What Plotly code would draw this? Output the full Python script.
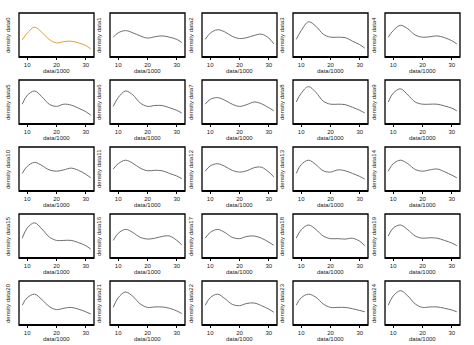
import plotly.graph_objects as go

# grid points (data/1000)
x_vals = [8.3, 10, 12.5, 15, 17.5, 20, 22.5, 25, 27.5, 30, 31.7]

# density estimates
densities = [
    [0.039, 0.054, 0.068, 0.056, 0.040, 0.032, 0.035, 0.036, 0.032, 0.026, 0.018],  # data0
    [0.045, 0.055, 0.060, 0.055, 0.048, 0.043, 0.046, 0.048, 0.045, 0.040, 0.033],  # data1
    [0.040, 0.054, 0.062, 0.057, 0.047, 0.042, 0.044, 0.049, 0.052, 0.043, 0.030],  # data2
    [0.040, 0.060, 0.080, 0.070, 0.052, 0.045, 0.045, 0.044, 0.036, 0.028, 0.020],  # data3
    [0.045, 0.060, 0.072, 0.064, 0.050, 0.045, 0.046, 0.048, 0.044, 0.037, 0.030],  # data4
    [0.045, 0.065, 0.075, 0.062, 0.045, 0.040, 0.045, 0.043, 0.036, 0.028, 0.020],  # data5
    [0.040, 0.060, 0.075, 0.066, 0.048, 0.040, 0.042, 0.042, 0.037, 0.031, 0.025],  # data6
    [0.045, 0.056, 0.060, 0.054, 0.045, 0.040, 0.044, 0.050, 0.046, 0.037, 0.030],  # data7
    [0.050, 0.070, 0.085, 0.072, 0.052, 0.045, 0.045, 0.044, 0.038, 0.031, 0.025],  # data8
    [0.050, 0.070, 0.080, 0.066, 0.050, 0.045, 0.045, 0.045, 0.041, 0.036, 0.030],  # data9
    [0.040, 0.056, 0.065, 0.058, 0.048, 0.045, 0.048, 0.052, 0.047, 0.038, 0.030],  # data10
    [0.050, 0.062, 0.070, 0.063, 0.052, 0.046, 0.047, 0.046, 0.040, 0.034, 0.028],  # data11
    [0.045, 0.057, 0.062, 0.056, 0.047, 0.043, 0.046, 0.053, 0.054, 0.043, 0.032],  # data12
    [0.040, 0.060, 0.070, 0.060, 0.046, 0.043, 0.048, 0.046, 0.040, 0.033, 0.027],  # data13
    [0.045, 0.062, 0.070, 0.062, 0.049, 0.045, 0.048, 0.050, 0.044, 0.036, 0.030],  # data14
    [0.045, 0.068, 0.080, 0.066, 0.048, 0.040, 0.040, 0.040, 0.035, 0.028, 0.020],  # data15
    [0.040, 0.056, 0.065, 0.058, 0.047, 0.043, 0.045, 0.049, 0.050, 0.040, 0.030],  # data16
    [0.045, 0.058, 0.065, 0.058, 0.047, 0.044, 0.049, 0.050, 0.045, 0.036, 0.029],  # data17
    [0.045, 0.064, 0.075, 0.065, 0.050, 0.044, 0.044, 0.043, 0.045, 0.038, 0.028],  # data18
    [0.050, 0.068, 0.075, 0.064, 0.050, 0.045, 0.046, 0.045, 0.040, 0.034, 0.028],  # data19
    [0.045, 0.062, 0.070, 0.058, 0.042, 0.035, 0.038, 0.040, 0.036, 0.030, 0.025],  # data20
    [0.040, 0.062, 0.075, 0.065, 0.048, 0.040, 0.041, 0.041, 0.038, 0.032, 0.026],  # data21
    [0.045, 0.062, 0.070, 0.060, 0.047, 0.044, 0.049, 0.050, 0.044, 0.036, 0.029],  # data22
    [0.045, 0.062, 0.070, 0.063, 0.048, 0.040, 0.040, 0.040, 0.037, 0.033, 0.030],  # data23
    [0.045, 0.066, 0.078, 0.066, 0.048, 0.040, 0.041, 0.041, 0.038, 0.034, 0.030],  # data24
]
panel_names = ["data%d" % i for i in range(25)]
tick_values = [10, 20, 30]
x_label = "data/1000"

W, H = 474, 345
col_left = [19, 110, 202, 293, 385]
row_top = [13, 80, 147, 214, 281]
box_w, box_h = 75, 44
FONT = "Liberation Sans"

fig = go.Figure()
shapes = []
annotations = []
for i, name in enumerate(panel_names):
    r, c = divmod(i, 5)
    k = "" if i == 0 else str(i + 1)
    xa, ya = "x" + k, "y" + k
    x0 = col_left[c] / W
    x1 = (col_left[c] + box_w) / W
    y1 = 1 - row_top[r] / H
    y0 = 1 - (row_top[r] + box_h) / H
    color = "#E3A02C" if i == 0 else "#6E6E6E"
    fig.add_trace(go.Scatter(x=x_vals, y=densities[i], mode="lines",
                             line=dict(color=color, width=1, shape="spline"),
                             xaxis=xa, yaxis=ya, showlegend=False, hoverinfo="skip"))
    fig.layout["xaxis" + k] = dict(domain=[x0, x1], range=[7.2, 32.8], anchor=ya,
                                   showgrid=False, zeroline=False, showline=False,
                                   tickvals=tick_values, ticks="outside", ticklen=2,
                                   tickwidth=1, tickcolor="black",
                                   tickfont=dict(size=6, family=FONT, color="#222"))
    fig.layout["yaxis" + k] = dict(domain=[y0, y1], range=[0.0, 0.1], anchor=xa,
                                   showgrid=False, zeroline=False, showline=False,
                                   showticklabels=False, ticks="")
    shapes.append(dict(type="rect", xref=xa + " domain", yref=ya + " domain",
                       x0=0, x1=1, y0=0, y1=1, line=dict(color="black", width=1.3)))
    shapes.append(dict(type="line", xref=xa + " domain", yref=ya + " domain",
                       x0=0, x1=1, y0=0, y1=0, line=dict(color="black", width=2.2)))
    annotations.append(dict(text=x_label, xref="paper", yref="paper",
                            x=(x0 + x1) / 2, y=1 - (row_top[r] + box_h + 14) / H,
                            xanchor="center", yanchor="middle", showarrow=False,
                            font=dict(size=6, family=FONT, color="#222")))
    annotations.append(dict(text="density " + name, xref="paper", yref="paper",
                            x=(col_left[c] - 11) / W, y=(y0 + y1) / 2, textangle=-90,
                            xanchor="center", yanchor="middle", showarrow=False,
                            font=dict(size=6, family=FONT, color="#222")))

fig.update_layout(width=W, height=H, margin=dict(l=0, r=0, t=0, b=0),
                  paper_bgcolor="white", plot_bgcolor="white",
                  shapes=shapes, annotations=annotations)
fig.write_html("out.html")
